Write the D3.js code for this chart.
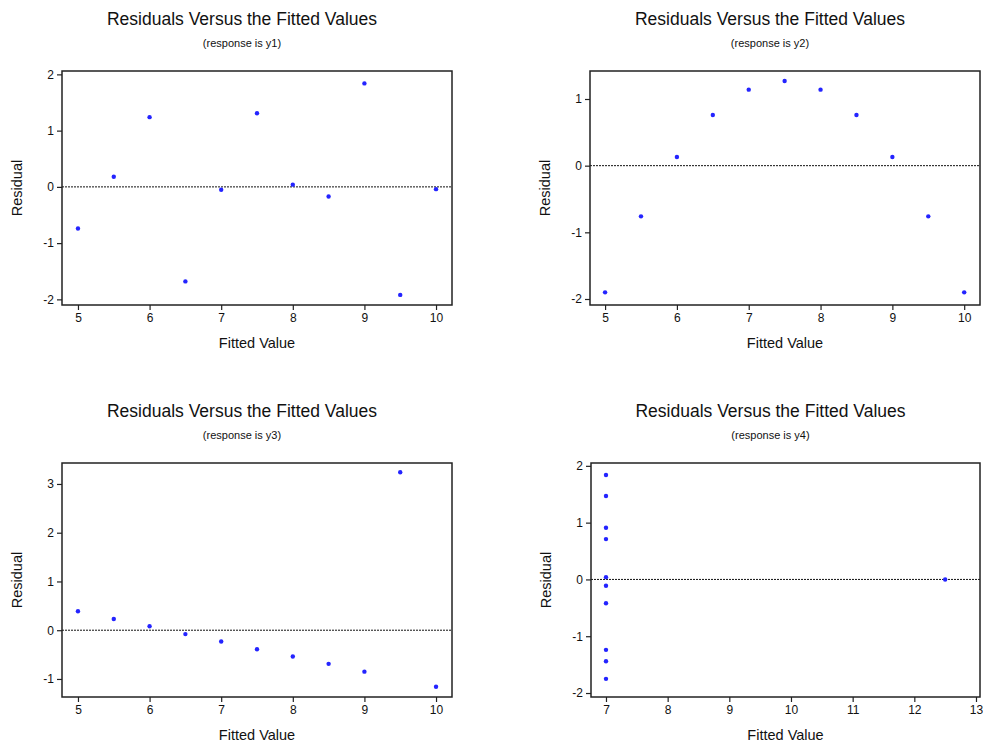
<html lang="en">
<head>
  <meta http-equiv="Content-Type" content="text/html; charset=utf-8" />
  <script src="https://d3js.org/d3.v7.min.js"></script>
  <style>
    body { margin: 0; background: #fff; }
  </style>
</head>
<body>
  <div id="chart"></div>
  <script>
    'use strict';
    const width = 983;
    const height = 744;
    const fontFamily = "'Liberation Sans', Arial, sans-serif";

    // fitted values and residuals, one pair of arrays per response
    const fitted1 = [8, 7, 9.5, 7.5, 8.5, 10, 6, 5, 9, 6.5, 5.5];
    const resid1 = [0.04, -0.05, -1.92, 1.31, -0.17, -0.04, 1.24, -0.74, 1.84, -1.68, 0.18];

    const fitted2 = [8, 7, 9.5, 7.5, 8.5, 10, 6, 5, 9, 6.5, 5.5];
    const resid2 = [1.14, 1.14, -0.76, 1.27, 0.76, -1.90, 0.13, -1.90, 0.13, 0.76, -0.76];

    const fitted3 = [8, 7, 9.5, 7.5, 8.5, 10, 6, 5, 9, 6.5, 5.5];
    const resid3 = [-0.54, -0.23, 3.24, -0.39, -0.69, -1.16, 0.08, 0.39, -0.85, -0.08, 0.23];

    const fitted4 = [7, 7, 7, 7, 7, 7, 7, 12.5, 7, 7, 7];
    const resid4 = [-0.42, -1.24, 0.71, 1.84, 1.47, 0.04, -1.75, 0, -1.44, 0.91, -0.11];

    const responses = ["y1", "y2", "y3", "y4"];
    const xTicks = [[5, 6, 7, 8, 9, 10], [5, 6, 7, 8, 9, 10], [5, 6, 7, 8, 9, 10], [7, 8, 9, 10, 11, 12, 13]];
    const yTicks = [[-2, -1, 0, 1, 2], [-2, -1, 0, 1], [-1, 0, 1, 2, 3], [-2, -1, 0, 1, 2]];
    const xDomains = [[4.777, 10.223], [4.79, 10.22], [4.777, 10.223], [6.757, 13.065]];
    const yDomains = [[-2.1, 2.06], [-2.09, 1.42], [-1.37, 3.43], [-2.07, 2.05]];

    const panels = [
      { x: fitted1, y: resid1, left: 62, top: 71, right: 452, bottom: 305 },
      { x: fitted2, y: resid2, left: 590, top: 71, right: 980, bottom: 305 },
      { x: fitted3, y: resid3, left: 62, top: 463, right: 452, bottom: 697 },
      { x: fitted4, y: resid4, left: 591, top: 463, right: 980, bottom: 697 }
    ];

    const svg = d3.select("#chart")
      .append("svg")
      .attr("width", width)
      .attr("height", height);

    panels.forEach((p, i) => {
      const xScale = d3.scaleLinear().domain(xDomains[i]).range([p.left, p.right]);
      const yScale = d3.scaleLinear().domain(yDomains[i]).range([p.bottom, p.top]);
      const g = svg.append("g");
      const cx = (p.left + p.right) / 2 - 15;

      // titles
      g.append("text")
        .attr("x", cx).attr("y", p.top - 46)
        .attr("text-anchor", "middle")
        .style("font-family", fontFamily)
        .style("font-size", "17.5px")
        .style("fill", "#111")
        .text("Residuals Versus the Fitted Values");
      g.append("text")
        .attr("x", cx).attr("y", p.top - 24)
        .attr("text-anchor", "middle")
        .style("font-family", fontFamily)
        .style("font-size", "11px")
        .style("fill", "#111")
        .text(`(response is ${responses[i]})`);

      // axes (plain hyphen for negatives, as in the original)
      const fmt = d => String(d);
      const xAxis = g.append("g")
        .attr("transform", `translate(0,${p.bottom})`)
        .call(d3.axisBottom(xScale).tickValues(xTicks[i]).tickSize(5).tickPadding(3).tickFormat(fmt));
      const yAxis = g.append("g")
        .attr("transform", `translate(${p.left},0)`)
        .call(d3.axisLeft(yScale).tickValues(yTicks[i]).tickSize(5).tickPadding(3).tickFormat(fmt));
      [xAxis, yAxis].forEach(a => {
        a.select(".domain").remove();
        a.selectAll(".tick line").attr("stroke", "#222").attr("stroke-width", 1.2);
        a.selectAll(".tick text")
          .style("font-family", fontFamily)
          .style("font-size", "12px")
          .attr("fill", "#111");
      });

      // zero reference line
      g.append("line")
        .attr("x1", p.left).attr("x2", p.right)
        .attr("y1", yScale(0)).attr("y2", yScale(0))
        .attr("stroke", "#111")
        .attr("stroke-width", 1)
        .attr("stroke-dasharray", "2,1");

      // frame
      g.append("rect")
        .attr("x", p.left).attr("y", p.top)
        .attr("width", p.right - p.left).attr("height", p.bottom - p.top)
        .attr("fill", "none")
        .attr("stroke", "#222")
        .attr("stroke-width", 1.5);

      // points
      g.selectAll("circle")
        .data(d3.zip(p.x, p.y))
        .join("circle")
        .attr("cx", d => xScale(d[0]))
        .attr("cy", d => yScale(d[1]))
        .attr("r", 2.2)
        .attr("fill", "#2424ff");

      // axis labels
      g.append("text")
        .attr("x", (p.left + p.right) / 2).attr("y", p.bottom + 43)
        .attr("text-anchor", "middle")
        .style("font-family", fontFamily)
        .style("font-size", "14.5px")
        .style("fill", "#111")
        .text("Fitted Value");
      g.append("text")
        .attr("transform", `translate(${p.left - 40},${(p.top + p.bottom) / 2}) rotate(-90)`)
        .attr("text-anchor", "middle")
        .style("font-family", fontFamily)
        .style("font-size", "14.5px")
        .style("fill", "#111")
        .text("Residual");
    });
  </script>
</body>
</html>
